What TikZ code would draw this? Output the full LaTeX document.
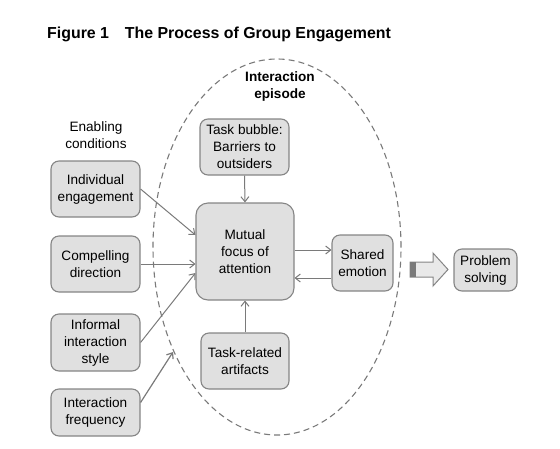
\documentclass[tikz,border=0pt]{standalone}
\usepackage{fontspec}
\setmainfont{Liberation Sans}
\usetikzlibrary{shapes.geometric,arrows.meta}
\definecolor{boxfill}{HTML}{E0E0E0}
\definecolor{boxline}{HTML}{858585}
\definecolor{linec}{HTML}{7A7A7A}
\tikzset{
  box/.style={draw=boxline, fill=boxfill, line width=1.1pt, rounded corners=8pt, align=center,
    font=\fontsize{13.6}{17}\selectfont, inner sep=0pt},
  conn/.style={draw=linec, line width=1pt, -{Straight Barb[length=5pt,width=8pt]}},
  lbl/.style={align=center, font=\fontsize{13.6}{17}\selectfont},
}
\begin{document}
\begin{tikzpicture}[x=1pt,y=-1pt]
\useasboundingbox (0,0) rectangle (560,448);
\node[anchor=base west, font=\fontsize{15.9}{18}\selectfont\bfseries, inner sep=0pt] (title) at (47,38) {Figure 1\hspace{1em}The Process of Group Engagement};
\node[ellipse, draw=linec, line width=1.1pt, dash pattern=on 6pt off 4pt, minimum width=248pt, minimum height=376pt, inner sep=0pt] (ep) at (277,247) {};
\node[lbl, font=\fontsize{13.6}{17}\selectfont\bfseries] (eplbl) at (280,86) {Interaction\\episode};
\node[lbl] (enlbl) at (96,135) {Enabling\\conditions};
\node[box, minimum width=89pt, minimum height=56pt] (ind) at (95.5,189) {Individual\\engagement};
\node[box, minimum width=89pt, minimum height=56pt] (comp) at (95.5,264) {Compelling\\direction};
\node[box, minimum width=89pt, minimum height=57pt] (inf) at (95.5,342.5) {Informal\\interaction\\style};
\node[box, minimum width=89pt, minimum height=47pt] (freq) at (95.5,412.5) {Interaction\\frequency};
\node[box, minimum width=98pt, minimum height=97pt, rounded corners=12pt] (mut) at (245,251.5) {Mutual\\focus of\\attention};
\node[box, minimum width=61pt, minimum height=56pt] (shared) at (362.5,263) {Shared\\emotion};
\node[box, minimum width=63pt, minimum height=42pt] (prob) at (485.5,270) {Problem\\solving};
\node[box, minimum width=89pt, minimum height=56pt] (task) at (244.5,147) {Task bubble:\\Barriers to\\outsiders};
\node[box, minimum width=88pt, minimum height=56pt] (art) at (245,361) {Task-related\\artifacts};
\coordinate (fe) at (173,352);
% connectors
\draw[conn] (ind.east) -- ([yshift=16.5pt]mut.west);
\draw[conn] (comp.east) -- (mut.west |- comp.east);
\draw[conn] (inf.east) -- ([yshift=-21.5pt]mut.west);
\draw[conn, line width=1.2pt] ([yshift=10pt]freq.east) -- (fe);
\draw[conn] (task.south) -- (mut.north);
\draw[conn] (art.north) -- (mut.south);
\draw[conn] (mut.east |- 0,250) -- (shared.west |- 0,250);
\draw[conn] (shared.west |- 0,278) -- (mut.east |- 0,278);
% block arrow
\draw[draw=boxline, fill=boxfill!70!white, line width=1pt] (410,262) -- (433,262) -- (433,253) -- (448,269.5) -- (433,286) -- (433,277) -- (410,277) -- cycle;
\fill[linec] (410,262) rectangle (415.5,277);
\end{tikzpicture}
\end{document}
